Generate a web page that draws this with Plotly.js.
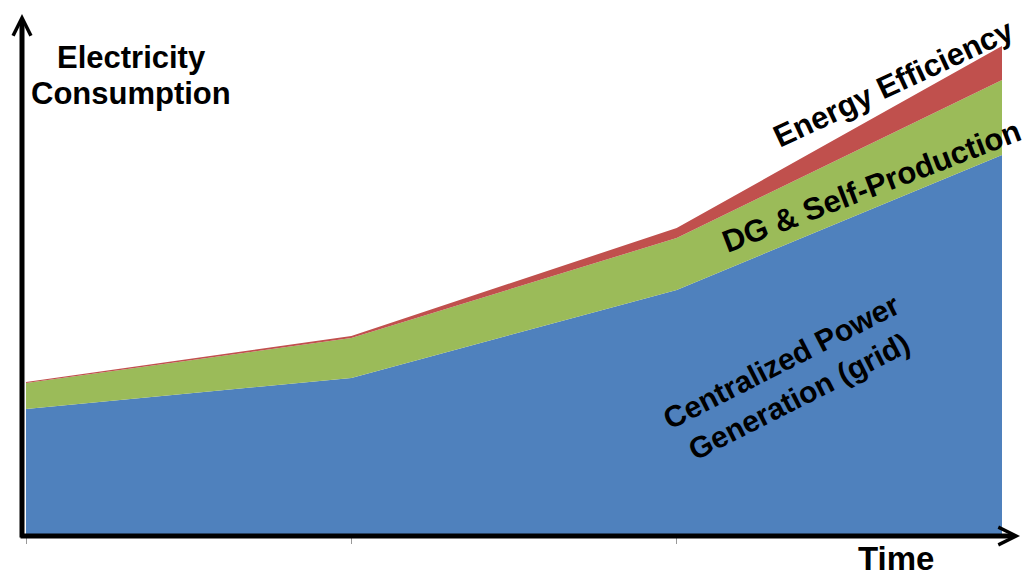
<!DOCTYPE html>
<html>
<head>
<meta charset="utf-8">
<script src="https://cdn.plot.ly/plotly-3.0.1.min.js"></script>
<style>html,body{margin:0;padding:0;background:#fff;}#chart{width:1025px;height:579px;}</style>
</head>
<body>
<div id="chart"></div>
<script>
// Time periods (unlabeled on the axis)
const periods = [0, 1, 2, 3];
// Stacked components of electricity consumption (arbitrary units)
const centralized = [127, 158, 246, 381];
const dgSelf = [26, 40, 52, 75];
const efficiency = [1, 2, 10, 34];
const tickPositions = [0, 1, 2];

const FONT = '"Liberation Sans", Arial, Helvetica, sans-serif';

const traces = [
  {x: periods, y: centralized, name: 'Centralized Power Generation (grid)', type: 'scatter', mode: 'none',
   stackgroup: 'one', fillcolor: '#4F81BD', line: {width: 0}},
  {x: periods, y: dgSelf, name: 'DG & Self-Production', type: 'scatter', mode: 'none',
   stackgroup: 'one', fillcolor: '#9BBB59', line: {width: 0}},
  {x: periods, y: efficiency, name: 'Energy Efficiency', type: 'scatter', mode: 'none',
   stackgroup: 'one', fillcolor: '#C0504D', line: {width: 0}}
];

const L = 26, R = 23, T = 20, B = 43;
const W = 1025 - L - R, H = 579 - T - B;
const px = v => (v - L) / W;
const py = v => (579 - B - v) / H;

function lbl(text, x, y, size, angle, yanchor) {
  return {text: '<b>' + text + '</b>', xref: 'paper', yref: 'paper', x: px(x), y: py(y),
    xanchor: 'center', yanchor: yanchor || 'middle', showarrow: false, textangle: angle || 0,
    font: {family: FONT, size: size, color: '#000'}};
}
function arrow(x0, y0, x1, y1) {
  return {text: '', xref: 'paper', yref: 'paper', axref: 'paper', ayref: 'paper',
    x: px(x1), y: py(y1), ax: px(x0), ay: py(y0), showarrow: true,
    arrowhead: 5, arrowsize: 0.7, arrowwidth: 5, arrowcolor: '#000', standoff: 0, startstandoff: 0};
}

const layout = {
  width: 1025, height: 579,
  margin: {l: L, r: R, t: T, b: B, pad: 0},
  paper_bgcolor: '#fff', plot_bgcolor: '#fff',
  showlegend: false,
  xaxis: {range: [0, 3], showgrid: false, zeroline: false, showline: false,
    tickvals: tickPositions, ticks: 'outside', ticklen: 7, tickwidth: 1, tickcolor: '#999',
    showticklabels: false, fixedrange: true},
  yaxis: {range: [0, H], showgrid: false, zeroline: false, showline: false,
    showticklabels: false, ticks: '', fixedrange: true},
  annotations: [
    arrow(22, 539, 22, 14),
    arrow(19, 536, 1020, 536),
    lbl('Electricity', 131, 57, 31),
    lbl('Consumption', 131, 93, 31),
    lbl('Time', 896, 579, 33, 0, 'bottom'),
    lbl('Energy Efficiency', 893, 83, 31, -25),
    lbl('DG & Self-Production', 871, 186, 31, -21),
    lbl('Centralized Power<br>Generation (grid)', 790, 379, 30, -27)
  ]
};

Plotly.newPlot('chart', traces, layout, {staticPlot: true, displayModeBar: false});
</script>
</body>
</html>
